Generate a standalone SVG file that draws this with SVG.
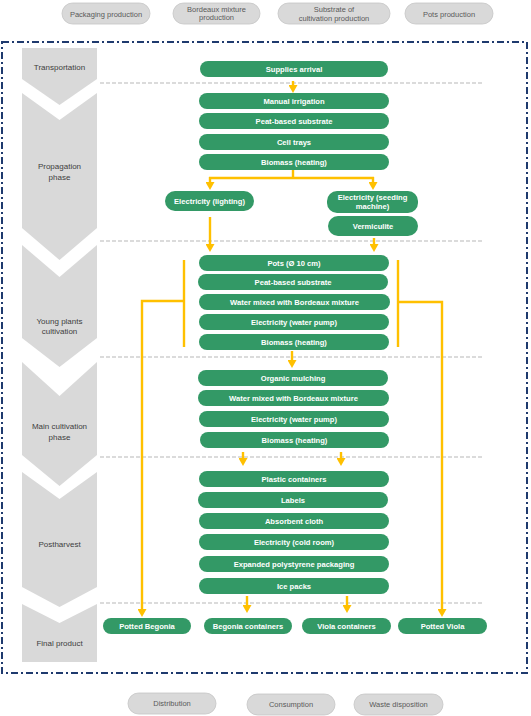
<svg xmlns="http://www.w3.org/2000/svg" width="531" height="716" viewBox="0 0 531 716">
<defs>
<style>
.pill{fill:#d9d9d9;stroke:#c4c4c4;stroke-width:0.8}
.pt{font-family:"Liberation Sans",Arial,sans-serif;font-size:7.5px;fill:#595959;text-anchor:middle}
.chev{fill:#d9d9d9}
.ct{font-family:"Liberation Sans",Arial,sans-serif;font-size:8px;fill:#404040;text-anchor:middle}
.box{fill:#339966}
.bt{font-family:"Liberation Sans",Arial,sans-serif;font-size:7.6px;font-weight:bold;fill:#ffffff;text-anchor:middle}
.sep{stroke:#cfcfcf;stroke-width:1.5;stroke-dasharray:4 2;fill:none}
.con{stroke:#ffc000;stroke-width:2.4;fill:none}
.arr{stroke:#ffc000;stroke-width:2.4;fill:none;marker-end:url(#ah)}
</style>
<marker id="ah" viewBox="0 0 8 9" refX="0" refY="4.5" markerWidth="8" markerHeight="9" markerUnits="userSpaceOnUse" orient="auto">
<path d="M0,0 L8,4.5 L0,9 z" fill="#ffc000"/>
</marker>
</defs>
<rect width="531" height="716" fill="#ffffff"/>

<g id="external-top">
<g id="packaging-production"><rect class="pill" x="62" y="3" width="88" height="21" rx="10.5"/><text class="pt" x="106" y="16.5">Packaging production</text></g>
<g id="bordeaux-production"><rect class="pill" x="173" y="3" width="87" height="21" rx="10.5"/><text class="pt" x="216.5" y="11.5">Bordeaux mixture</text><text class="pt" x="216.5" y="20">production</text></g>
<g id="substrate-production"><rect class="pill" x="278" y="3" width="112" height="21" rx="10.5"/><text class="pt" x="334" y="11.5">Substrate of</text><text class="pt" x="334" y="20.5">cultivation production</text></g>
<g id="pots-production"><rect class="pill" x="405" y="3" width="88" height="21" rx="10.5"/><text class="pt" x="449" y="16.5">Pots production</text></g>
</g>

<rect id="system-boundary" x="2" y="42" width="525" height="631" fill="none" stroke="#1f3a6e" stroke-width="2" stroke-dasharray="7 3 2 3"/>

<g id="phases">
<g id="ph-transport"><polygon class="chev" points="22,48 97,48 97,79 59.5,105 22,79"/><text class="ct" x="59.5" y="70">Transportation</text></g>
<g id="ph-propagation"><polygon class="chev" points="22,93 59.5,120 97,93 97,228 59.5,260 22,228"/><text class="ct" x="59.5" y="169">Propagation</text><text class="ct" x="59.5" y="180">phase</text></g>
<g id="ph-young"><polygon class="chev" points="22,245 59.5,277 97,245 97,338 59.5,367 22,338"/><text class="ct" x="59.5" y="324">Young plants</text><text class="ct" x="59.5" y="334">cultivation</text></g>
<g id="ph-main"><polygon class="chev" points="22,362 59.5,396 97,362 97,455 59.5,486 22,455"/><text class="ct" x="59.5" y="429">Main cultivation</text><text class="ct" x="59.5" y="440">phase</text></g>
<g id="ph-post"><polygon class="chev" points="22,472 59.5,499 97,472 97,587 59.5,607 22,587"/><text class="ct" x="59.5" y="547">Postharvest</text></g>
<g id="ph-final"><polygon class="chev" points="22,604 59.5,623 97,604 97,662 22,662"/><text class="ct" x="59.5" y="646">Final product</text></g>
</g>

<g id="separators">
<line class="sep" x1="100" y1="83" x2="482" y2="83"/>
<line class="sep" x1="100" y1="241" x2="482" y2="241"/>
<line class="sep" x1="100" y1="357" x2="482" y2="357"/>
<line class="sep" x1="100" y1="457" x2="482" y2="457"/>
<line class="sep" x1="100" y1="603" x2="482" y2="603"/>
</g>

<g id="connectors">
<line class="arr" x1="293" y1="81" x2="293" y2="85"/>
<polyline class="con" points="293,170 293,178"/>
<polyline class="con" points="209,178 374,178"/>
<line class="arr" x1="210" y1="177" x2="210" y2="182"/>
<line class="arr" x1="373" y1="177" x2="373" y2="182"/>
<line class="arr" x1="210" y1="217" x2="210" y2="244"/>
<line class="arr" x1="374" y1="238" x2="374" y2="244"/>
<line class="con" x1="184" y1="260" x2="184" y2="347"/>
<polyline class="arr" points="184,301 142,301 142,609"/>
<line class="con" x1="398" y1="260" x2="398" y2="347"/>
<polyline class="arr" points="398,302 442,302 442,609"/>
<line class="arr" x1="292" y1="351" x2="292" y2="360"/>
<line class="arr" x1="243" y1="452" x2="243" y2="458"/>
<line class="arr" x1="341" y1="452" x2="341" y2="458"/>
<line class="arr" x1="247" y1="596" x2="247" y2="605"/>
<line class="arr" x1="347" y1="596" x2="347" y2="605"/>
</g>

<g id="nodes">
<g id="n-supplies"><rect class="box" x="200" y="61" width="188" height="16" rx="8"/><text class="bt" x="294" y="71.8">Supplies arrival</text></g>
<g id="n-manual-irrigation"><rect class="box" x="199" y="93" width="190" height="16" rx="8"/><text class="bt" x="294" y="103.8">Manual irrigation</text></g>
<g id="n-peat1"><rect class="box" x="199" y="113" width="190" height="16" rx="8"/><text class="bt" x="294" y="123.8">Peat-based substrate</text></g>
<g id="n-cell-trays"><rect class="box" x="199" y="134" width="190" height="16" rx="8"/><text class="bt" x="294" y="144.8">Cell trays</text></g>
<g id="n-biomass1"><rect class="box" x="199" y="154" width="190" height="16" rx="8"/><text class="bt" x="294" y="164.8">Biomass (heating)</text></g>
<g id="n-elec-lighting"><rect class="box" x="165" y="191" width="89" height="20" rx="10"/><text class="bt" x="209.5" y="203.8">Electricity (lighting)</text></g>
<g id="n-elec-seeding"><rect class="box" x="327" y="191" width="91" height="22" rx="10"/><text class="bt" x="372.5" y="200">Electricity (seeding</text><text class="bt" x="372.5" y="209">machine)</text></g>
<g id="n-vermiculite"><rect class="box" x="328" y="216" width="90" height="20" rx="10"/><text class="bt" x="373" y="228.8">Vermiculite</text></g>
<g id="n-pots"><rect class="box" x="199" y="255" width="190" height="16" rx="8"/><text class="bt" x="294" y="265.8">Pots (Ø 10 cm)</text></g>
<g id="n-peat2"><rect class="box" x="198" y="274" width="190" height="16" rx="8"/><text class="bt" x="293" y="284.8">Peat-based substrate</text></g>
<g id="n-water1"><rect class="box" x="199" y="294" width="191" height="16" rx="8"/><text class="bt" x="294.5" y="304.8">Water mixed with Bordeaux mixture</text></g>
<g id="n-pump1"><rect class="box" x="199" y="314" width="190" height="16" rx="8"/><text class="bt" x="294" y="324.8">Electricity (water pump)</text></g>
<g id="n-biomass2"><rect class="box" x="199" y="334" width="190" height="16" rx="8"/><text class="bt" x="294" y="344.8">Biomass (heating)</text></g>
<g id="n-mulching"><rect class="box" x="198" y="370" width="190" height="16" rx="8"/><text class="bt" x="293" y="380.8">Organic mulching</text></g>
<g id="n-water2"><rect class="box" x="198" y="390" width="191" height="16" rx="8"/><text class="bt" x="293.5" y="400.8">Water mixed with Bordeaux mixture</text></g>
<g id="n-pump2"><rect class="box" x="199" y="411" width="190" height="16" rx="8"/><text class="bt" x="294" y="421.8">Electricity (water pump)</text></g>
<g id="n-biomass3"><rect class="box" x="200" y="432" width="189" height="16" rx="8"/><text class="bt" x="294.5" y="442.8">Biomass (heating)</text></g>
<g id="n-plastic"><rect class="box" x="199" y="471" width="190" height="16" rx="8"/><text class="bt" x="294" y="481.8">Plastic containers</text></g>
<g id="n-labels"><rect class="box" x="198" y="492" width="190" height="16" rx="8"/><text class="bt" x="293" y="502.8">Labels</text></g>
<g id="n-cloth"><rect class="box" x="199" y="513" width="190" height="16" rx="8"/><text class="bt" x="294" y="523.8">Absorbent cloth</text></g>
<g id="n-coldroom"><rect class="box" x="199" y="534" width="190" height="16" rx="8"/><text class="bt" x="294" y="544.8">Electricity (cold room)</text></g>
<g id="n-eps"><rect class="box" x="199" y="556" width="190" height="16" rx="8"/><text class="bt" x="294" y="566.8">Expanded polystyrene packaging</text></g>
<g id="n-icepacks"><rect class="box" x="199" y="578" width="190" height="16" rx="8"/><text class="bt" x="294" y="588.8">Ice packs</text></g>
<g id="n-potted-begonia"><rect class="box" x="103" y="618" width="88" height="16" rx="8"/><text class="bt" x="147" y="628.8">Potted Begonia</text></g>
<g id="n-begonia-containers"><rect class="box" x="204" y="618" width="88" height="16" rx="8"/><text class="bt" x="248" y="628.8">Begonia containers</text></g>
<g id="n-viola-containers"><rect class="box" x="302" y="618" width="89" height="16" rx="8"/><text class="bt" x="346.5" y="628.8">Viola containers</text></g>
<g id="n-potted-viola"><rect class="box" x="398" y="618" width="89" height="16" rx="8"/><text class="bt" x="442.5" y="628.8">Potted Viola</text></g>
</g>

<g id="external-bottom">
<g id="distribution"><rect class="pill" x="128" y="693" width="88" height="21" rx="10.5"/><text class="pt" x="172" y="706">Distribution</text></g>
<g id="consumption"><rect class="pill" x="247" y="694" width="88" height="21" rx="10.5"/><text class="pt" x="291" y="707">Consumption</text></g>
<g id="waste-disposition"><rect class="pill" x="354" y="694" width="89" height="21" rx="10.5"/><text class="pt" x="398.5" y="707">Waste disposition</text></g>
</g>
</svg>
